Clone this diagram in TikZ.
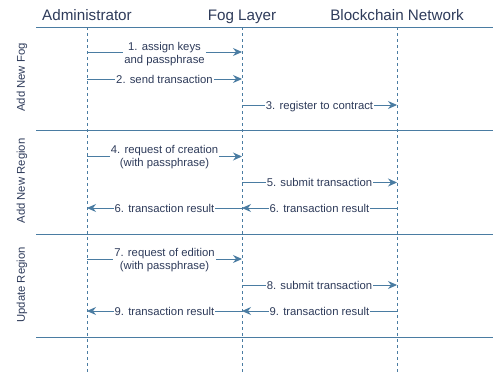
\documentclass[tikz,border=0pt]{standalone}
\usepackage{fontspec}
\setmainfont{Liberation Sans}
\usetikzlibrary{arrows.meta}
\definecolor{wire}{HTML}{4A7CA2}
\definecolor{ink}{HTML}{2E3B5A}
\tikzset{
  lifeline/.style={draw=wire, line width=0.9pt, dash pattern=on 3pt off 3pt},
  sep/.style={draw=wire, line width=0.9pt},
  msg/.style={draw=wire, line width=0.9pt, -{Stealth[length=9pt,width=8pt,inset=3pt]}},
  lbl/.style={fill=white, text=ink, font=\fontsize{11.3}{13}\selectfont, align=center, inner sep=1pt},
  lbl1/.style={lbl, anchor=base, yshift=-4pt},
  head/.style={text=ink, font=\fontsize{15.2}{17}\selectfont, inner sep=0pt, anchor=base},
  phase/.style={text=ink, font=\fontsize{11.3}{13}\selectfont, rotate=90, inner sep=0pt}
}
\begin{document}
\begin{tikzpicture}[x=1pt, y=-1pt]
\useasboundingbox (0,0) rectangle (493,372);
% participants
\node[head] (adm) at (87,20.5) {Administrator};
\node[head] (fog) at (242,20.5) {Fog Layer};
\node[head] (bcn) at (397,20.5) {Blockchain Network};
% separators
\draw[sep] (36,27) -- (493,27);
\draw[sep] (36,130.5) -- (493,130.5);
\draw[sep] (36,234) -- (493,234);
\draw[sep] (36,337) -- (493,337);
% lifelines
\coordinate (a0) at (87,27);  \coordinate (a1) at (87,372);
\coordinate (f0) at (242,27); \coordinate (f1) at (242,372);
\coordinate (b0) at (397,27); \coordinate (b1) at (397,372);
\draw[lifeline] (a0) -- (a1);
\draw[lifeline] (f0) -- (f1);
\draw[lifeline] (b0) -- (b1);
% phase labels
\node[phase] (p1) at (22,77.5) {Add New Fog};
\node[phase] (p2) at (22,181) {Add New Region};
\node[phase] (p3) at (22,285) {Update Region};
% message end points
\foreach \n/\y in {1/52,2/79,3/105,4/156.5,5/182.5,6/208,7/259,8/285,9/311}{
  \coordinate (a\n) at (87,\y);
  \coordinate (f\n) at (242,\y);
  \coordinate (b\n) at (397,\y);
}
% phase 1
\draw[msg] (a1) -- (f1);
\node[lbl] (m1) at (164.5,54) {1. assign keys\\and passphrase};
\draw[msg] (a2) -- (f2);
\node[lbl1] (m2) at (164.5,79) {2. send transaction};
\draw[msg] (f3) -- (b3);
\node[lbl1] (m3) at (319.5,105) {3. register to contract};
% phase 2
\draw[msg] (a4) -- (f4);
\node[lbl] (m4) at (164.5,157.5) {4. request of creation\\(with passphrase)};
\draw[msg] (f5) -- (b5);
\node[lbl1] (m5) at (319.5,182.5) {5. submit transaction};
\draw[msg] (b6) -- (f6);
\node[lbl1] (m6b) at (319.5,208) {6. transaction result};
\draw[msg] (f6) -- (a6);
\node[lbl1] (m6a) at (164.5,208) {6. transaction result};
% phase 3
\draw[msg] (a7) -- (f7);
\node[lbl] (m7) at (164.5,260.5) {7. request of edition\\(with passphrase)};
\draw[msg] (f8) -- (b8);
\node[lbl1] (m8) at (319.5,285) {8. submit transaction};
\draw[msg] (b9) -- (f9);
\node[lbl1] (m9b) at (319.5,311) {9. transaction result};
\draw[msg] (f9) -- (a9);
\node[lbl1] (m9a) at (164.5,311) {9. transaction result};
\end{tikzpicture}
\end{document}
